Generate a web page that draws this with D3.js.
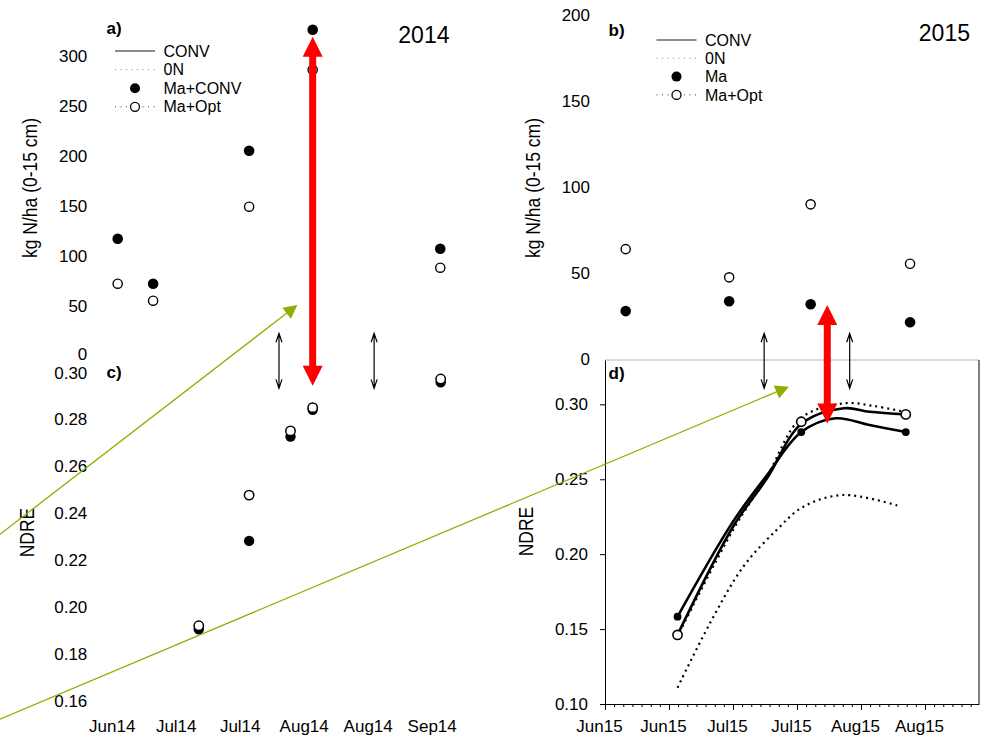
<!DOCTYPE html>
<html><head><meta charset="utf-8">
<script src="https://cdn.jsdelivr.net/npm/d3@7"></script>
<style>
body{margin:0;background:#fff}
svg{display:block;font-family:"Liberation Sans",Arial,Helvetica,sans-serif}
</style>
</head><body>
<svg id="chart" width="984" height="738"></svg>
<script>
// ---------------- DATA ----------------
// x positions are days counted from the first tick of each season (ticks every 15 days)
const tickDays = [0, 15, 30, 45, 60, 75];
const tickLabels2014 = ["Jun14", "Jul14", "Jul14", "Aug14", "Aug14", "Sep14"];
const tickLabels2015 = ["Jun15", "Jun15", "Jul15", "Jul15", "Aug15", "Aug15"];
const soilTicks2014 = [0, 50, 100, 150, 200, 250, 300];
const soilTicks2015 = [0, 50, 100, 150, 200];
const ndreTicks2014 = [0.16, 0.18, 0.20, 0.22, 0.24, 0.26, 0.28, 0.30];
const ndreTicks2015 = [0.10, 0.15, 0.20, 0.25, 0.30];

const legendLabels2014 = ["CONV", "0N", "Ma+CONV", "Ma+Opt"];
const legendLabels2015 = ["CONV", "0N", "Ma", "Ma+Opt"];

// a) soil N 2014
const soilDays2014 = [0, 8.3, 30.8, 45.7, 75.6];
const soilMaConv2014 = [117, 72, 205, 326, 107];
const soilMaOpt2014 = [72, 55, 149, 286, 88];

// b) soil N 2015
const soilDays2015 = [4.85, 29.1, 48.2, 71.5];
const soilMa2015 = [28, 33.7, 32, 21.5];
const soilMaOpt2015 = [64, 47.6, 90, 55.5];

// c) NDRE 2014
const ndreDays2014 = [19.0, 30.8, 40.5, 45.7, 75.7];
const ndreMaConv2014 = [0.1904, 0.2280, 0.2724, 0.2838, 0.2955];
const ndreMaOpt2014 = [0.1919, 0.2475, 0.2748, 0.2847, 0.2969];

// d) NDRE 2015 – measured points
const ndreDays2015 = [17, 46, 70.5];
const ndreMa2015 = [0.1583, 0.2815, 0.2815];
const ndreMaOpt2015 = [0.1461, 0.2884, 0.2933];

// d) NDRE 2015 – fitted curves
const curveMaDays = [17, 30, 38, 46, 54, 62, 70.5];
const curveMaVals = [0.1583, 0.2217, 0.2528, 0.2815, 0.2907, 0.2862, 0.2815];
const curveConvDays = [17, 30, 38, 46, 56, 62, 70.5];
const curveConvVals = [0.1461, 0.2183, 0.2508, 0.2869, 0.2974, 0.2951, 0.2933];
const curveOptDays = [17.5, 30, 38, 46, 56, 63, 70];
const curveOptVals = [0.1481, 0.2161, 0.2522, 0.2909, 0.3007, 0.2989, 0.2951];
const curve0NDays = [17, 24.6, 32.4, 40.2, 46.5, 55.9, 69];
const curve0NVals = [0.1109, 0.1539, 0.1916, 0.2161, 0.2317, 0.2395, 0.2321];

// annotations (in data units)
const blackArrowDays2014 = [37.8, 60.1];
const blackArrowDays2015 = [37.3, 57.35];

// ---------------- DRAW ----------------
const svg = d3.select("#chart");
const FONT = '"Liberation Sans", Arial, Helvetica, sans-serif';
svg.append("rect").attr("width", 984).attr("height", 738).attr("fill", "#fff");

const x14 = d3.scaleLinear().domain([0, 15]).range([117.7, 181.7]);
const x15 = d3.scaleLinear().domain([0, 87.66]).range([605, 979]);
const yA = d3.scaleLinear().domain([0, 300]).range([355.7, 55.7]);
const yB = d3.scaleLinear().domain([0, 200]).range([359.3, 15]);
const yC = d3.scaleLinear().domain([0.16, 0.30]).range([700.7, 371.7]);
const yD = d3.scaleLinear().domain([0.10, 0.3296]).range([704, 360]);

function styleAxis(g, size) {
  g.attr("font-family", FONT).attr("font-size", size);
  g.selectAll("text").attr("fill", "#000");
  g.selectAll("line").attr("stroke", "#000");
  g.select(".domain").attr("stroke", "#000");
}

// left axes without lines (a, b, c)
const axA = svg.append("g").attr("transform", "translate(104.3,0)")
  .call(d3.axisLeft(yA).tickValues(soilTicks2014).tickSize(0).tickPadding(17).tickFormat(d3.format("d")));
styleAxis(axA, 17); axA.select(".domain").remove();
// keep the lowest label of a) clear of the top label of c)
axA.selectAll(".tick text").filter(d => d === 0).attr("dy", "0.2em");

const axB = svg.append("g").attr("transform", "translate(607,0)")
  .call(d3.axisLeft(yB).tickValues(soilTicks2015).tickSize(0).tickPadding(17).tickFormat(d3.format("d")));
styleAxis(axB, 17); axB.select(".domain").remove();

const axC = svg.append("g").attr("transform", "translate(104.3,0)")
  .call(d3.axisLeft(yC).tickValues(ndreTicks2014).tickSize(0).tickPadding(17).tickFormat(d3.format(".2f")));
styleAxis(axC, 17); axC.select(".domain").remove();
axC.selectAll(".tick text").filter(d => Math.abs(d - 0.30) < 1e-9).attr("dy", "0.4em");

const axCx = svg.append("g").attr("transform", "translate(0,704)")
  .call(d3.axisBottom(x14).tickValues(tickDays).tickSize(0).tickPadding(16).tickFormat((d, i) => tickLabels2014[i]));
styleAxis(axCx, 17); axCx.select(".domain").remove();
axCx.selectAll("text").attr("dx", -6);

// panel d frame & axes
svg.append("line").attr("x1", x15.range()[0]).attr("x2", x15.range()[1])
  .attr("y1", yD.range()[1]).attr("y2", yD.range()[1]).attr("stroke", "#b4b4b4").attr("stroke-width", 1);
svg.append("line").attr("x1", x15.range()[1]).attr("x2", x15.range()[1])
  .attr("y1", yD.range()[1]).attr("y2", yD.range()[0]).attr("stroke", "#000").attr("stroke-width", 1);

const axD = svg.append("g").attr("transform", "translate(605,0)")
  .call(d3.axisLeft(yD).tickValues(ndreTicks2015).tickSize(5).tickPadding(12).tickSizeOuter(0).tickFormat(d3.format(".2f")));
styleAxis(axD, 17);

const minorDays = d3.range(0, 87.7, 15 / 7).filter(d => tickDays.every(t => Math.abs(t - d) > 0.01));
const axDminor = svg.append("g").attr("transform", "translate(0,704)")
  .call(d3.axisBottom(x15).tickValues(minorDays).tickSize(3).tickFormat(""));
styleAxis(axDminor, 17); axDminor.select(".domain").remove();

const axDx = svg.append("g").attr("transform", "translate(0,704)")
  .call(d3.axisBottom(x15).tickValues(tickDays).tickSize(6).tickPadding(10).tickSizeOuter(0).tickFormat((d, i) => tickLabels2015[i]));
styleAxis(axDx, 17);
axDx.selectAll("text").attr("dx", -6);

// axis titles
function vTitle(x, y, txt) {
  svg.append("text").attr("transform", `translate(${x},${y}) scale(1.2,1) rotate(-90)`)
    .attr("text-anchor", "middle").attr("font-size", 17.5).attr("fill", "#000").text(txt);
}
vTitle(37, 188, "kg N/ha (0-15 cm)");
vTitle(539.5, 188, "kg N/ha (0-15 cm)");
vTitle(33.5, 532.5, "NDRE");
vTitle(533, 531.5, "NDRE");

// panel letters and years
function label(x, y, txt, opts) {
  svg.append("text").attr("x", x).attr("y", y).attr("dy", "0.35em")
    .attr("font-size", opts.size).attr("font-weight", opts.bold ? "bold" : "normal")
    .attr("text-anchor", opts.anchor || "start").attr("fill", "#000").text(txt);
}
label(106.5, 28.5, "a)", {size: 17, bold: true});
label(106.5, 372.5, "c)", {size: 17, bold: true});
label(608.5, 30, "b)", {size: 17, bold: true});
label(608.5, 373.5, "d)", {size: 17, bold: true});
label(449.5, 34.5, "2014", {size: 23, anchor: "end"});
label(970, 33, "2015", {size: 23, anchor: "end"});

// legends
function legend(x0, y0, dy, labels) {
  const g = svg.append("g");
  labels.forEach((t, i) => {
    const y = y0 + i * dy;
    if (i === 0) g.append("line").attr("x1", x0).attr("x2", x0 + 40).attr("y1", y).attr("y2", y)
      .attr("stroke", "#666").attr("stroke-width", 1.6);
    if (i === 1) g.append("line").attr("x1", x0).attr("x2", x0 + 40).attr("y1", y).attr("y2", y)
      .attr("stroke", "#888").attr("stroke-width", 1).attr("stroke-dasharray", "1,4.5");
    if (i === 2) g.append("circle").attr("cx", x0 + 20).attr("cy", y).attr("r", 5).attr("fill", "#000");
    if (i === 3) {
      g.append("line").attr("x1", x0).attr("x2", x0 + 40).attr("y1", y).attr("y2", y)
        .attr("stroke", "#444").attr("stroke-width", 1).attr("stroke-dasharray", "1,4.5");
      g.append("circle").attr("cx", x0 + 20).attr("cy", y).attr("r", 4.5)
        .attr("fill", "#fff").attr("stroke", "#000").attr("stroke-width", 1.3);
    }
    g.append("text").attr("x", x0 + 48.5).attr("y", y).attr("dy", "0.35em")
      .attr("font-size", 16).attr("fill", "#000").text(t);
  });
}
legend(115, 51, 18.6, legendLabels2014);
legend(656.5, 40, 18.3, legendLabels2015);

// points helper
function points(xs, ys, xScale, yScale, filled, r, sw) {
  svg.append("g").selectAll("circle").data(xs.map((d, i) => [d, ys[i]])).join("circle")
    .attr("cx", d => xScale(d[0])).attr("cy", d => yScale(d[1])).attr("r", r)
    .attr("fill", filled ? "#000" : "#fff").attr("stroke", "#000").attr("stroke-width", filled ? 0 : sw);
}

// panel a
points(soilDays2014, soilMaConv2014, x14, yA, true, 5.3);
points(soilDays2014, soilMaOpt2014, x14, yA, false, 4.6, 1.4);
// panel c
points(ndreDays2014, ndreMaConv2014, x14, yC, true, 5.2);
points(ndreDays2014, ndreMaOpt2014, x14, yC, false, 4.7, 1.5);
// panel b
points(soilDays2015, soilMa2015, x15, yB, true, 5.3);
points(soilDays2015, soilMaOpt2015, x15, yB, false, 4.6, 1.4);

// panel d curves
const lineD = d3.line().x(d => x15(d[0])).y(d => yD(d[1])).curve(d3.curveCatmullRom.alpha(0.5));
function curve(days, vals, dashed, w) {
  svg.append("path").attr("d", lineD(days.map((d, i) => [d, vals[i]])))
    .attr("fill", "none").attr("stroke", "#000").attr("stroke-width", w)
    .attr("stroke-dasharray", dashed ? "2,4" : null);
}
curve(curve0NDays, curve0NVals, true, 2.2);
curve(curveOptDays, curveOptVals, true, 2.2);
curve(curveConvDays, curveConvVals, false, 2.6);
curve(curveMaDays, curveMaVals, false, 2.6);
points(ndreDays2015, ndreMa2015, x15, yD, true, 3.9);
points(ndreDays2015, ndreMaOpt2015, x15, yD, false, 4.6, 1.6);

// ---------------- ANNOTATIONS ----------------
function thinDoubleArrow(x, y1, y2) {
  const p = d3.path();
  p.moveTo(x, y1); p.lineTo(x, y2);
  p.moveTo(x - 3, y1 + 9); p.lineTo(x, y1); p.lineTo(x + 3, y1 + 9);
  p.moveTo(x - 3, y2 - 9); p.lineTo(x, y2); p.lineTo(x + 3, y2 - 9);
  svg.append("path").attr("d", p.toString()).attr("fill", "none").attr("stroke", "#000").attr("stroke-width", 1.2);
}
function redDoubleArrow(x, y1, y2) {
  const s = 3.5, h = 10, l = 20;
  const pts = [[x, y1], [x + h, y1 + l], [x + s, y1 + l], [x + s, y2 - l], [x + h, y2 - l], [x, y2],
               [x - h, y2 - l], [x - s, y2 - l], [x - s, y1 + l], [x - h, y1 + l]];
  svg.append("polygon").attr("points", pts.map(p => p.join(",")).join(" ")).attr("fill", "#ff0000");
}
function greenArrow(xa, ya, xb, yb) {
  const dx = xb - xa, dy = yb - ya, L = Math.hypot(dx, dy), ux = dx / L, uy = dy / L;
  const hl = 13.5, hw = 7;
  const bx = xb - ux * hl, by = yb - uy * hl;
  svg.append("line").attr("x1", xa).attr("y1", ya).attr("x2", bx + ux * 2).attr("y2", by + uy * 2)
    .attr("stroke", "#8fae00").attr("stroke-width", 1.3);
  svg.append("polygon").attr("points", [[xb, yb], [bx - uy * hw, by + ux * hw], [bx + uy * hw, by - ux * hw]]
    .map(p => p.join(",")).join(" ")).attr("fill", "#8fae00");
}

blackArrowDays2014.forEach(d => thinDoubleArrow(x14(d), yA(22.4), yC(0.2929)));
blackArrowDays2015.forEach(d => thinDoubleArrow(x15(d), yB(15.1), yD(0.3107)));
redDoubleArrow(x14(45.7), yA(319), yC(0.2940));
redDoubleArrow(x15(52.1), yB(31.5), yD(0.2873));
greenArrow(x14(-27.6), yC(0.2308), x14(42.1), yA(50.7));
greenArrow(x14(-27.6), yC(0.1521), x15(43.1), yD(0.3118));
</script>
</body></html>
